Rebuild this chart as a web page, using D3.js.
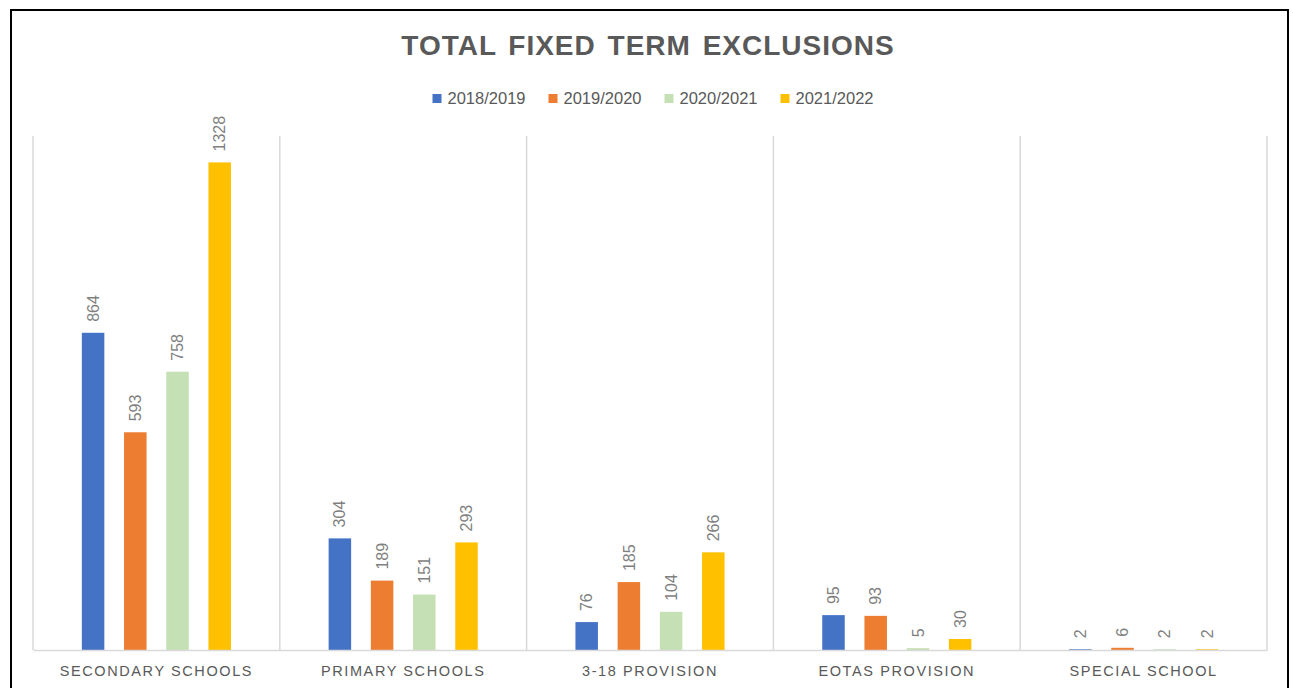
<!DOCTYPE html>
<html>
<head>
<meta charset="utf-8">
<script src="https://cdn.jsdelivr.net/npm/d3@7"></script>
<style>
  body { margin: 0; background: #fff; }
  svg { display: block; }
</style>
</head>
<body>
<svg id="chart"></svg>
<script>
// chart data
const categories = ['SECONDARY SCHOOLS', 'PRIMARY SCHOOLS', '3-18 PROVISION', 'EOTAS PROVISION', 'SPECIAL SCHOOL'];
const seriesNames = ['2018/2019', '2019/2020', '2020/2021', '2021/2022'];
const values2018 = [864, 304, 76, 95, 2];
const values2019 = [593, 189, 185, 93, 6];
const values2020 = [758, 151, 104, 5, 2];
const values2021 = [1328, 293, 266, 30, 2];
const seriesColors = ['#4472C4', '#ED7D31', '#C5E0B4', '#FFC000'];

const allValues = [values2018, values2019, values2020, values2021];

const width = 1293, height = 688;
const svg = d3.select('#chart').attr('width', width).attr('height', height);

// outer frame
svg.append('rect')
    .attr('x', 11).attr('y', 10)
    .attr('width', 1277).attr('height', 690)
    .attr('fill', '#fff')
    .attr('stroke', '#000')
    .attr('stroke-width', 2);

// title
svg.append('text')
    .attr('x', 648).attr('y', 55)
    .attr('text-anchor', 'middle')
    .attr('font-family', 'Liberation Sans, Arial, sans-serif')
    .attr('font-weight', 'bold')
    .attr('font-size', 28)
    .attr('letter-spacing', 1)
    .attr('word-spacing', 3)
    .attr('fill', '#595959')
    .text('TOTAL FIXED TERM EXCLUSIONS');

// scales
const x0 = d3.scaleBand().domain(categories).range([33, 1267]).padding(0);
const x1 = d3.scaleBand().domain(seriesNames).range([0, x0.bandwidth()])
    .paddingInner(0.467).paddingOuter(1.157);
const y = d3.scaleLinear().domain([0, 1400]).range([650, 136]);

// vertical gridlines between categories
const edges = categories.map(c => x0(c)).concat([x0.range()[1]]);
svg.append('g').selectAll('line').data(edges).enter()
    .append('line')
    .attr('x1', d => d).attr('x2', d => d)
    .attr('y1', y(1400)).attr('y2', y(0))
    .attr('stroke', '#d9d9d9')
    .attr('stroke-width', 1.5);

// bars
const rows = [];
categories.forEach((cat, i) => {
    seriesNames.forEach((s, j) => {
        rows.push({ cat: cat, series: s, value: allValues[j][i], color: seriesColors[j] });
    });
});

svg.append('g').selectAll('rect').data(rows).enter()
    .append('rect')
    .attr('x', d => x0(d.cat) + x1(d.series))
    .attr('y', d => y(d.value))
    .attr('width', x1.bandwidth())
    .attr('height', d => y(0) - y(d.value))
    .attr('fill', d => d.color);

// value labels (rotated)
svg.append('g').selectAll('text').data(rows).enter()
    .append('text')
    .attr('transform', d => `translate(${x0(d.cat) + x1(d.series) + x1.bandwidth() / 2},${y(d.value) - 11}) rotate(-90)`)
    .attr('dy', '0.35em')
    .attr('font-family', 'Liberation Sans, Arial, sans-serif')
    .attr('font-size', 16)
    .attr('fill', '#7f7f7f')
    .text(d => d.value);

// category axis
const xAxis = svg.append('g')
    .attr('transform', `translate(0,${y(0)})`)
    .call(d3.axisBottom(x0).tickSize(0).tickPadding(16));
xAxis.select('.domain').attr('stroke', '#d9d9d9').attr('stroke-width', 1.5);
xAxis.selectAll('text')
    .attr('font-family', 'Liberation Sans, Arial, sans-serif')
    .attr('font-size', 14.5)
    .attr('letter-spacing', 1.6)
    .attr('fill', '#595959');

// legend
const legend = svg.append('g');
const items = legend.selectAll('g').data(seriesNames).enter().append('g');
items.append('rect')
    .attr('width', 9).attr('height', 9)
    .attr('y', 94)
    .attr('fill', (d, i) => seriesColors[i]);
items.append('text')
    .attr('x', 15).attr('y', 104)
    .attr('font-family', 'Liberation Sans, Arial, sans-serif')
    .attr('font-size', 16.5)
    .attr('fill', '#595959')
    .text(d => d);

let offset = 0;
const positions = [];
items.each(function () {
    const w = 15 + d3.select(this).select('text').node().getComputedTextLength();
    positions.push(offset);
    offset += w + 23;
});
const legendStart = 653 - (offset - 23) / 2;
items.attr('transform', (d, i) => `translate(${legendStart + positions[i]},0)`);
</script>
</body>
</html>
